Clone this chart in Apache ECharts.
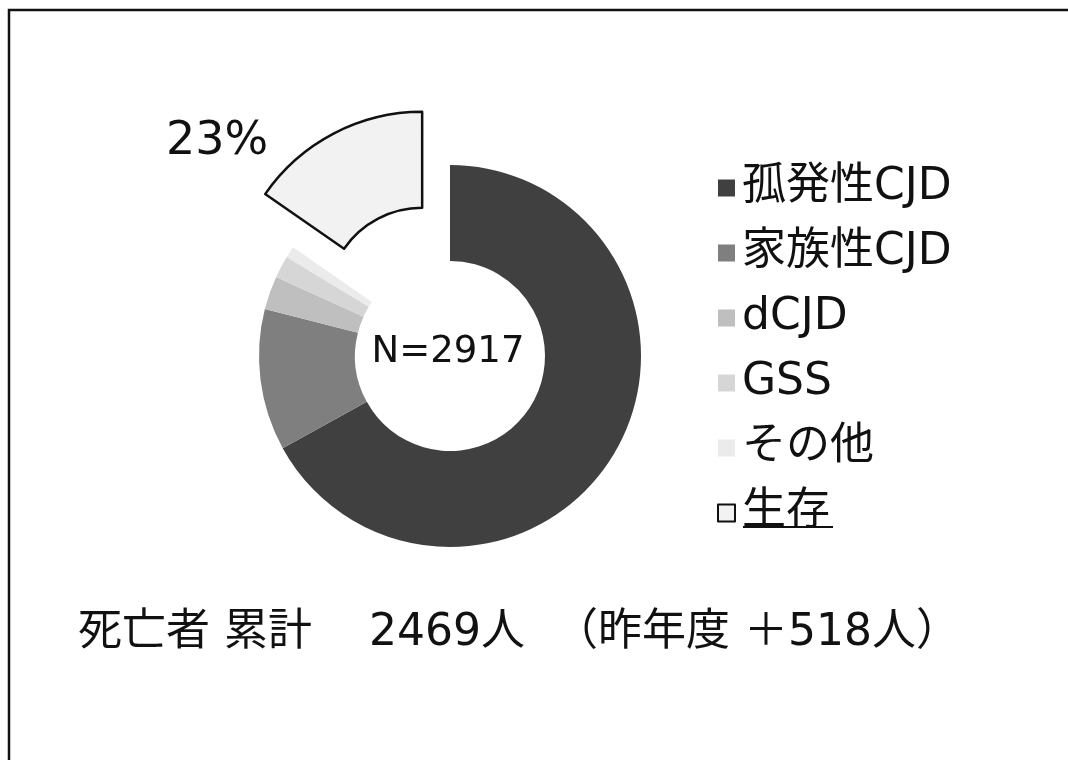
<!DOCTYPE html>
<html>
<head>
<meta charset="utf-8">
<script src="https://cdn.jsdelivr.net/npm/echarts@6/dist/echarts.min.js"></script>
<style>
  html, body { margin: 0; padding: 0; background: #fff; }
  #main { width: 1068px; height: 760px; }
</style>
</head>
<body>
<div id="main"></div>
<script>
// 病型別の内訳（円の角度から読み取り）
var categories = ['孤発性CJD', '家族性CJD', 'dCJD', 'GSS', 'その他', '生存'];
var values = [1954, 349, 83, 55, 28, 448];
var colors = ['#404040', '#7f7f7f', '#bfbfbf', '#d6d6d6', '#ebebeb', '#f2f2f2'];
var totalLabel = 'N=2917';
var survivalLabel = '23%';
var footerParts = ['死亡者 累計', '2469人', '（昨年度 ＋518人）'];
var footerWidths = [291, 185, null];

var FONT = '"DejaVu Sans", "Noto Sans CJK JP", sans-serif';

var chart = echarts.init(document.getElementById('main'));

var pieData = categories.map(function (name, i) {
  var item = {
    name: name,
    value: values[i],
    itemStyle: { color: colors[i], borderWidth: 0 }
  };
  if (name === '生存') {
    // 生存だけ外に切り出して黒枠
    item.selected = true;
    item.itemStyle = { color: colors[i], borderColor: '#111', borderWidth: 2.5 };
    item.select = { itemStyle: { color: colors[i], borderColor: '#111', borderWidth: 2.5 } };
  }
  return item;
});

// 下の注記は区切りごとに幅を決めて並べる
var footerRich = {};
var footerText = footerParts.map(function (s, i) {
  footerRich['p' + i] = { fontSize: 44, fontFamily: FONT };
  if (footerWidths[i]) footerRich['p' + i].width = footerWidths[i];
  return '{p' + i + '|' + s + '}';
}).join('');

chart.setOption({
  animation: false,
  textStyle: { fontFamily: FONT },
  legend: {
    orient: 'vertical',
    left: 712, top: 161,
    itemWidth: 17, itemHeight: 17,
    itemGap: 21,
    icon: 'rect',
    selectedMode: false,
    data: categories,
    textStyle: { fontSize: 44, color: '#111', fontFamily: FONT, padding: [0, 0, 0, 2] }
  },
  series: [{
    type: 'pie',
    center: [450, 356],
    radius: [95, 191],
    startAngle: 90,
    clockwise: true,
    selectedMode: 'single',
    selectedOffset: 60,
    avoidLabelOverlap: false,
    label: { show: false },
    labelLine: { show: false },
    emphasis: { disabled: true },
    data: pieData
  }],
  graphic: [
    {
      type: 'polyline',
      shape: { points: [[9, 760], [9, 10], [1068, 10]] },
      style: { stroke: '#111', lineWidth: 2.5, fill: null }
    },
    {
      type: 'text', x: 448, y: 352,
      style: {
        text: totalLabel, font: '37px ' + FONT, fill: '#111',
        textAlign: 'center', textVerticalAlign: 'middle'
      }
    },
    {
      type: 'text', x: 217, y: 142,
      style: {
        text: survivalLabel, font: '46px ' + FONT, fill: '#111',
        textAlign: 'center', textVerticalAlign: 'middle'
      }
    },
    {
      type: 'text', x: 78, y: 634,
      style: {
        text: footerText,
        textVerticalAlign: 'middle',
        fill: '#111',
        font: '44px ' + FONT,
        rich: footerRich
      }
    },
    {
      type: 'line',
      shape: { x1: 743, y1: 527, x2: 833, y2: 527 },
      style: { stroke: '#111', lineWidth: 2 }
    }
  ]
});
</script>
</body>
</html>
